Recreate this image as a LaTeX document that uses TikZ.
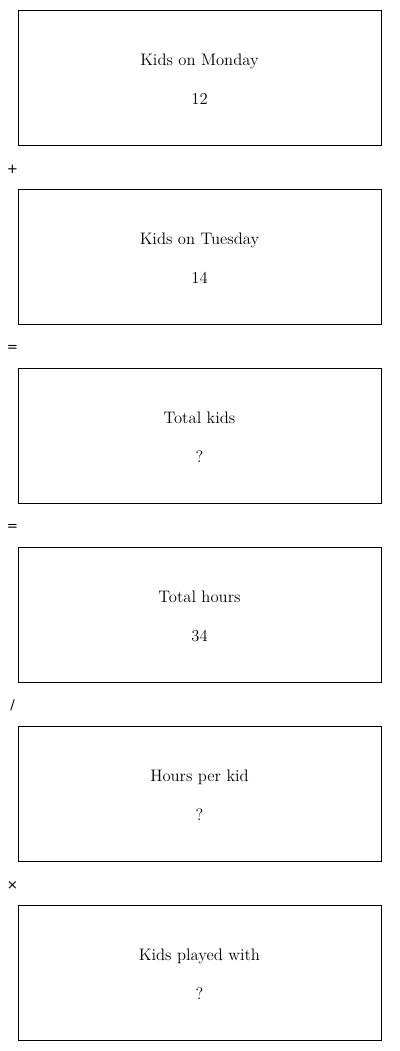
\documentclass[tikz,border=0pt]{standalone}
\usepackage{fontspec}
\newfontfamily\opfont{DejaVu Sans}
\usetikzlibrary{positioning}

\begin{document}
\begin{tikzpicture}[
  x=0.75pt, y=-0.75pt,
  qbox/.style ={rectangle, draw=black, line width=0.6pt, fill=white,
                minimum width=363*0.75pt, minimum height=135*0.75pt,
                inner sep=0pt},
  qtxt/.style ={anchor=base, font=\fontsize{12.5}{14}\selectfont, inner sep=0pt},
  qop/.style  ={font=\opfont\fontsize{10}{12}\selectfont, inner sep=0pt},
]
\useasboundingbox[fill=white] (0,0) rectangle (400,1051);

%% ═══ Cajas ═══
\node[qbox] (mon) at (199.5,  77.5) {};
\node[qbox] (tue) at (199.5, 256.5) {};
\node[qbox] (tot) at (199.5, 435.5) {};
\node[qbox] (hrs) at (199.5, 614.5) {};
\node[qbox] (per) at (199.5, 793.5) {};
\node[qbox] (ply) at (199.5, 972.5) {};

%% ═══ Textos ═══
\node[qtxt] (monT) at (199.5,  65) {Kids on Monday};
\node[qtxt] (monV) at (199.5, 104) {12};
\node[qtxt] (tueT) at (199.5, 244) {Kids on Tuesday};
\node[qtxt] (tueV) at (199.5, 283) {14};
\node[qtxt] (totT) at (199.5, 423) {Total kids};
\node[qtxt] (totV) at (199.5, 462) {?};
\node[qtxt] (hrsT) at (199.5, 602) {Total hours};
\node[qtxt] (hrsV) at (199.5, 641) {34};
\node[qtxt] (perT) at (199.5, 781) {Hours per kid};
\node[qtxt] (perV) at (199.5, 820) {?};
\node[qtxt] (plyT) at (199.5, 960) {Kids played with};
\node[qtxt] (plyV) at (199.5, 999) {?};

%% ═══ Operadores ═══
\node[qop] (op1) at (12.5, 169) {+};
\node[qop] (op2) at (12.5, 348) {=};
\node[qop] (op3) at (12.5, 527) {=};
\node[qop] (op4) at (12.5, 705) {/};
\node[qop] (op5) at (12.5, 886) {×};

\end{tikzpicture}
\end{document}
